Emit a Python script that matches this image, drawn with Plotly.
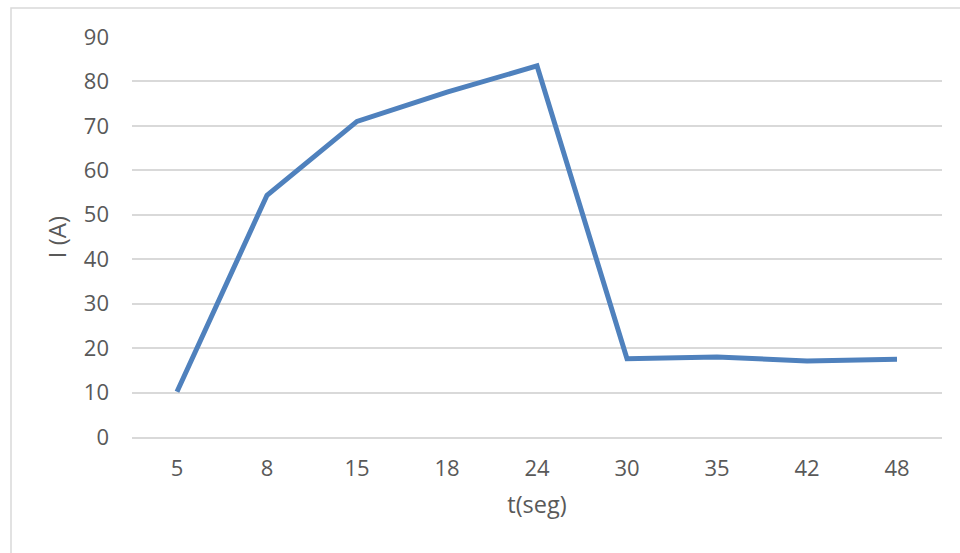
import plotly.graph_objects as go

# Current readings over time
t_seg = ["5", "8", "15", "18", "24", "30", "35", "42", "48"]
corriente = [10.2, 54.4, 71.0, 77.6, 83.5, 17.6, 18.0, 17.1, 17.5]
y_ticks = [0, 10, 20, 30, 40, 50, 60, 70, 80, 90]

W, H = 960, 553
L, R, T, B = 132, 18, 37, 116
pw, ph = W - L - R, H - T - B

fig = go.Figure(
    go.Scatter(
        x=t_seg,
        y=corriente,
        mode="lines",
        line=dict(color="#4f81bd", width=5, shape="linear"),
        hoverinfo="x+y",
    )
)

font_family = "Open Sans, Noto Sans, sans-serif"
grey = "#595959"

fig.update_layout(
    width=W,
    height=H,
    margin=dict(l=L, r=R, t=T, b=B),
    paper_bgcolor="white",
    plot_bgcolor="white",
    showlegend=False,
    font=dict(family=font_family, color=grey, size=20),
    xaxis=dict(
        type="category",
        range=[-0.5, len(t_seg) - 0.5],
        showgrid=False,
        showline=True,
        linecolor="#d9d9d9",
        linewidth=1.5,
        ticks="",
        tickfont=dict(size=22, color=grey),
        ticklabelstandoff=11,
        title=dict(text="t(seg)", font=dict(size=23.5, color=grey), standoff=15),
        fixedrange=True,
    ),
    yaxis=dict(
        range=[0, 90],
        tickvals=y_ticks,
        showgrid=True,
        gridcolor="#d9d9d9",
        gridwidth=1.5,
        zeroline=False,
        showline=False,
        ticks="",
        tickfont=dict(size=22, color=grey),
        ticklabelstandoff=22,
        title=dict(text="I (A)", font=dict(size=24, color=grey), standoff=10),
        fixedrange=True,
    ),
)

# Chart-area frame (left and top edges visible)
x_left = (11 - L) / pw
y_top = 1 + (T - 8) / ph
fig.add_shape(
    type="rect",
    xref="paper",
    yref="paper",
    x0=x_left,
    x1=1.2,
    y0=-0.6,
    y1=y_top,
    line=dict(color="#d9d9d9", width=1.5),
    layer="below",
)

fig.write_html("out.html")
